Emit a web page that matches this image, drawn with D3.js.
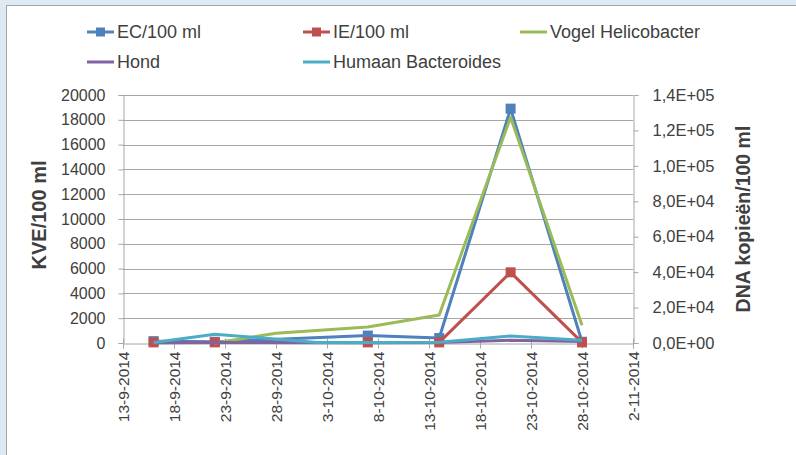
<!DOCTYPE html>
<html><head><meta charset="utf-8">
<script src="https://cdn.jsdelivr.net/npm/d3@7"></script>
<style>
html,body{margin:0;padding:0;background:#dfe9f3;}
svg{display:block;}
text{font-family:"Liberation Sans",Arial,sans-serif;fill:#404040;}
</style></head>
<body>
<script>
// ---- data ----
const xTickLabels = ["13-9-2014","18-9-2014","23-9-2014","28-9-2014","3-10-2014","8-10-2014","13-10-2014","18-10-2014","23-10-2014","28-10-2014","2-11-2014"];
const leftTicks = [0,2000,4000,6000,8000,10000,12000,14000,16000,18000,20000];
const rightTicks = [0,20000,40000,60000,80000,100000,120000,140000];
const rightTickLabels = ["0,0E+00","2,0E+04","4,0E+04","6,0E+04","8,0E+04","1,0E+05","1,2E+05","1,4E+05"];

const ecDates = ["16-9-2014","22-9-2014","7-10-2014","14-10-2014","21-10-2014","28-10-2014"];
const ecValues = [150, 100, 600, 400, 18900, 100];
const ieDates = ["16-9-2014","22-9-2014","7-10-2014","14-10-2014","21-10-2014","28-10-2014"];
const ieValues = [50, 50, 50, 50, 5700, 50];
const vogelDates = ["22-9-2014","28-9-2014","7-10-2014","14-10-2014","21-10-2014","28-10-2014"];
const vogelValues = [0, 5500, 9000, 15800, 127500, 10000];
const hondDates = ["16-9-2014","22-9-2014","7-10-2014","14-10-2014","21-10-2014","28-10-2014"];
const hondValues = [200, 300, 200, 300, 1500, 800];
const humaanDates = ["16-9-2014","22-9-2014","2-10-2014","7-10-2014","14-10-2014","21-10-2014","28-10-2014"];
const humaanValues = [300, 5000, 300, 300, 400, 4000, 1500];

const seriesNames = ["EC/100 ml","IE/100 ml","Vogel Helicobacter","Hond","Humaan Bacteroides"];
const seriesColors = ["#4f81bd","#c0504d","#9bbb59","#8064a2","#4bacc6"];

// ---- drawing ----
const W = 796, H = 455;
const parse = d3.timeParse("%d-%m-%Y");
const svg = d3.select("body").append("svg").attr("width", W).attr("height", H);

// frame
svg.append("rect").attr("x", 6.5).attr("y", 5.5).attr("width", W).attr("height", H)
  .attr("fill", "#ffffff").attr("stroke", "#a6a6a6").attr("stroke-width", 1);

const x = d3.scaleTime().domain([parse("13-9-2014"), parse("2-11-2014")]).range([123, 633]);
const yL = d3.scaleLinear().domain([0, 20000]).range([343, 95]);
const yR = d3.scaleLinear().domain([0, 140000]).range([343, 95]);

// gridlines
svg.append("g").selectAll("line").data(leftTicks.slice(1)).join("line")
  .attr("x1", 123).attr("x2", 633)
  .attr("y1", d => Math.round(yL(d)) + 0.5).attr("y2", d => Math.round(yL(d)) + 0.5)
  .attr("stroke", "#a6a6a6").attr("stroke-width", 1);

// left axis
const gL = svg.append("g").attr("transform", "translate(123.5,0)")
  .call(d3.axisLeft(yL).tickValues(leftTicks).tickFormat(d3.format("d")).tickSize(5).tickPadding(13));
// right axis
const gR = svg.append("g").attr("transform", "translate(633.5,0)")
  .call(d3.axisRight(yR).tickValues(rightTicks).tickFormat((d, i) => rightTickLabels[i]).tickSize(5).tickPadding(14));
// bottom axis
const gB = svg.append("g").attr("transform", "translate(0,343.5)")
  .call(d3.axisBottom(x).tickValues(xTickLabels.map(parse)).tickFormat((d, i) => xTickLabels[i]).tickSize(5).tickPadding(4));

[gL, gR, gB].forEach(g => {
  g.select(".domain").attr("stroke", "#a6a6a6");
  g.selectAll(".tick line").attr("stroke", "#a6a6a6");
  g.selectAll("text").attr("font-size", 16).attr("fill", "#404040")
    .attr("font-family", "'Liberation Sans',Arial,sans-serif");
});
gR.selectAll(".tick text").attr("font-size", 16.5);
gB.selectAll(".tick line").attr("y1", -5);
gB.selectAll(".tick text").attr("font-size", 15.5)
  .attr("transform", "rotate(-90)").attr("text-anchor", "end")
  .attr("x", -8).attr("y", 0).attr("dy", "0.35em");

// axis titles
svg.append("text").attr("transform", "translate(46,215) rotate(-90)")
  .attr("text-anchor", "middle").attr("font-size", 20).attr("font-weight", "bold")
  .attr("fill", "#000").text("KVE/100 ml");
svg.append("text").attr("transform", "translate(750,219) rotate(-90)")
  .attr("text-anchor", "middle").attr("font-size", 19.5).attr("font-weight", "bold")
  .attr("fill", "#000").text("DNA kopieën/100 ml");

// series
const series = [
  {dates: ecDates, values: ecValues, y: yL, marker: true},
  {dates: ieDates, values: ieValues, y: yL, marker: true},
  {dates: vogelDates, values: vogelValues, y: yR, marker: false},
  {dates: hondDates, values: hondValues, y: yR, marker: false},
  {dates: humaanDates, values: humaanValues, y: yR, marker: false}
];
series.forEach((s, i) => {
  const pts = s.dates.map((d, j) => [x(parse(d)), s.y(s.values[j])]);
  svg.append("path").datum(pts)
    .attr("d", d3.line())
    .attr("fill", "none").attr("stroke", seriesColors[i]).attr("stroke-width", 3)
    .attr("stroke-linejoin", "round");
  if (s.marker) {
    svg.append("g").selectAll("rect").data(pts).join("rect")
      .attr("x", p => p[0] - 5).attr("y", p => p[1] - 5)
      .attr("width", 10).attr("height", 10).attr("fill", seriesColors[i]);
  }
});

// legend
const legendPos = [[87, 32], [303, 32], [520, 32], [87, 62], [303, 62]];
seriesNames.forEach((name, i) => {
  const [lx, ly] = legendPos[i];
  const g = svg.append("g").attr("transform", `translate(${lx},${ly})`);
  g.append("line").attr("x1", 0).attr("x2", 27).attr("y1", 0).attr("y2", 0)
    .attr("stroke", seriesColors[i]).attr("stroke-width", 3);
  if (i < 2) g.append("rect").attr("x", 9).attr("y", -4.5).attr("width", 9).attr("height", 9).attr("fill", seriesColors[i]);
  g.append("text").attr("x", 30).attr("y", 0).attr("dy", "0.35em")
    .attr("font-size", 18).attr("fill", "#262626").text(name);
});
</script>
</body></html>
